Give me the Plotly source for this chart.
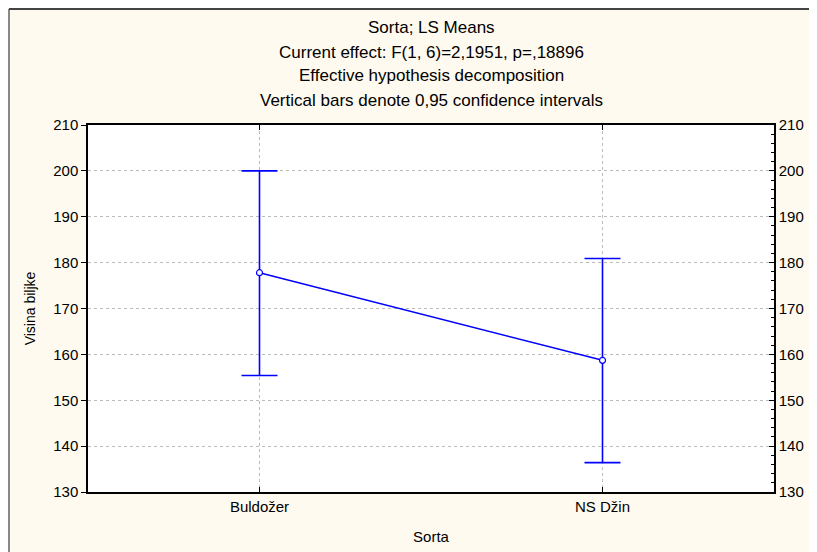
import plotly.graph_objects as go

categories = ["Buldožer", "NS Džin"]
means = [177.8, 158.7]
upper = [200.0, 180.9]
lower = [155.4, 136.4]
title_lines = ["Sorta; LS Means",
               "Current effect: F(1, 6)=2,1951, p=,18896",
               "Effective hypothesis decomposition",
               "Vertical bars denote 0,95 confidence intervals"]
y_ticks = [130, 140, 150, 160, 170, 180, 190, 200, 210]

BLUE = "#0000FF"
FONT = "Liberation Sans, Arial, sans-serif"

err_plus = [u - m for u, m in zip(upper, means)]
err_minus = [m - l for m, l in zip(means, lower)]
xs = list(range(len(categories)))

fig = go.Figure()
fig.add_trace(go.Scatter(
    x=xs, y=means, mode="lines+markers",
    line=dict(color=BLUE, width=1.5),
    marker=dict(symbol="circle", size=6, color="white", line=dict(color=BLUE, width=1.2)),
    error_y=dict(type="data", symmetric=False, array=err_plus, arrayminus=err_minus,
                 color=BLUE, thickness=1.6, width=18),
    showlegend=False, hoverinfo="skip",
))
fig.add_trace(go.Scatter(x=xs, y=means, yaxis="y2", mode="markers",
                         marker=dict(opacity=0), showlegend=False, hoverinfo="skip"))

# page has an 8px body margin, so the figure is 809x544
W, H = 809, 544
L, R, T, B = 80, 43, 117, 60
pw, ph = W - L - R, H - T - B

fig.update_layout(
    width=W, height=H,
    margin=dict(l=L, r=R, t=T, b=B, autoexpand=False),
    paper_bgcolor="#FFFAEF", plot_bgcolor="white",
    font=dict(family=FONT, size=15, color="black"),
    xaxis=dict(range=[-0.5, 1.5], tickvals=xs, ticktext=categories,
               showgrid=True, gridcolor="#BBBBBB", griddash="dot", gridwidth=1,
               showline=True, linecolor="black", linewidth=1.5, mirror="ticks",
               ticks="inside", ticklen=5, tickcolor="black", zeroline=False,
               title=dict(text="Sorta", standoff=18, font=dict(size=15)), tickfont=dict(size=15)),
    yaxis=dict(range=[130, 210], tickvals=y_ticks,
               showgrid=True, gridcolor="#BBBBBB", griddash="dot", gridwidth=1,
               showline=True, linecolor="black", linewidth=1.5,
               ticks="outside", ticklen=5, tickcolor="black", zeroline=False,
               title=dict(text="Visina biljke", standoff=14, font=dict(size=14)),
               tickfont=dict(size=15)),
    yaxis2=dict(range=[130, 210], tickvals=y_ticks, overlaying="y", side="right",
                showgrid=False, showline=True, linecolor="black", linewidth=1.5,
                ticks="inside", ticklen=5, tickcolor="black", zeroline=False,
                minor=dict(ticks="inside", ticklen=3, dtick=2, tickcolor="black"),
                tickfont=dict(size=15)),
)

title_y = [19, 44, 68, 92]  # centre of each title line, px from figure top
for t, yy in zip(title_lines, title_y):
    fig.add_annotation(text=t, xref="paper", yref="paper",
                       x=0.5, y=(H - B - yy) / ph, xanchor="center", yanchor="middle",
                       showarrow=False, font=dict(size=17, family=FONT))

# frame: left and top edges
fig.add_shape(type="line", xref="paper", yref="paper",
              x0=(1 - L) / pw, x1=(1 - L) / pw, y0=-B / ph, y1=(H - B - 1) / ph,
              line=dict(color="#888888", width=2))
fig.add_shape(type="line", xref="paper", yref="paper",
              x0=(1 - L) / pw, x1=(W - L) / pw, y0=(H - B - 1) / ph, y1=(H - B - 1) / ph,
              line=dict(color="#444444", width=2))

fig.write_html("out.html")
